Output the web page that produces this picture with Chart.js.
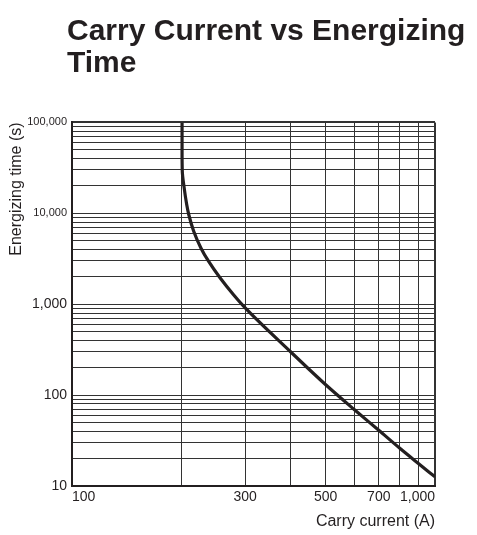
<!DOCTYPE html>
<html>
<head>
<meta charset="utf-8">
<script src="https://cdn.jsdelivr.net/npm/chart.js@4/dist/chart.umd.min.js"></script>
<style>
  html, body { margin: 0; padding: 0; background: #ffffff; }
  #wrap { width: 477px; height: 535px; position: relative; }
</style>
</head>
<body>
<div id="wrap"><canvas id="chart"></canvas></div>
<script>
// Carry current (A) against energizing time (s)
const carryCurrent = [201, 201, 201.3, 203.4, 207, 209.7, 216.4, 226.5, 237.7, 256, 278.6, 300, 400, 500, 600, 700, 800, 900, 1000];
const energizingTime = [100000, 50000, 29000, 19900, 12500, 9700, 6350, 4160, 2970, 1940, 1270, 910, 300, 130, 69, 41, 26, 17.7, 12.6];

// Grid line positions and the values that carry a label
const currentGrid = [100, 200, 300, 400, 500, 600, 700, 800, 900, 1000];
const currentLabels = [100, 300, 500, 700, 1000];
const timeGrid = [10, 20, 30, 40, 50, 60, 70, 80, 90,
                  100, 200, 300, 400, 500, 600, 700, 800, 900,
                  1000, 2000, 3000, 4000, 5000, 6000, 7000, 8000, 9000,
                  10000, 20000, 30000, 40000, 50000, 60000, 70000, 80000, 90000,
                  100000];
const timeLabels = [10, 100, 1000, 10000, 100000];

const ink = '#231f20';
const fontFamily = '"Liberation Sans", Arial, Helvetica, sans-serif';

const points = carryCurrent.map((c, i) => ({ x: c, y: energizingTime[i] }));

// Shift the chart title so it starts a little left of the plot area
const titleShift = {
  id: 'titleShift',
  afterLayout(chart) {
    const t = chart.titleBlock;
    if (t) { t.left = 67; t.right = 477; }
  }
};

new Chart(document.getElementById('chart'), {
  type: 'line',
  data: {
    datasets: [{
      data: points,
      borderColor: ink,
      borderWidth: 3.2,
      pointRadius: 0,
      cubicInterpolationMode: 'monotone',
      fill: false
    }]
  },
  options: {
    indexAxis: 'y',
    responsive: true,
    maintainAspectRatio: false,
    animation: false,
    layout: { padding: { left: 0, right: 42, top: 0, bottom: 0 } },
    plugins: {
      legend: { display: false },
      tooltip: { enabled: false },
      title: {
        display: true,
        text: ['Carry Current vs Energizing', 'Time'],
        align: 'start',
        color: ink,
        font: { family: fontFamily, size: 30, weight: 'bold', lineHeight: 1.09 },
        padding: { top: 15, bottom: 42 }
      }
    },
    scales: {
      x: {
        type: 'logarithmic',
        position: 'bottom',
        min: 100,
        max: 1000,
        afterFit(scale) { scale.height = 49; },
        afterBuildTicks(scale) { scale.ticks = currentGrid.map(v => ({ value: v })); },
        border: { display: true, color: ink, width: 2 },
        grid: {
          color: '#333333',
          lineWidth: ctx => (ctx.tick && ctx.tick.value === 1000 ? 2 : 1),
          drawTicks: false
        },
        ticks: {
          autoSkip: false,
          maxRotation: 0,
          align: 'inner',
          padding: 3,
          color: ink,
          font: { family: fontFamily, size: 14 },
          callback: v => (currentLabels.includes(v) ? v.toLocaleString('en-US') : '')
        },
        title: {
          display: true,
          text: 'Carry current (A)',
          align: 'end',
          color: ink,
          font: { family: fontFamily, size: 16 },
          padding: { top: 0, bottom: 4 }
        }
      },
      y: {
        type: 'logarithmic',
        position: 'left',
        min: 10,
        max: 100000,
        afterFit(scale) { scale.width = 72; },
        afterBuildTicks(scale) { scale.ticks = timeGrid.map(v => ({ value: v })); },
        border: { display: true, color: ink, width: 2 },
        grid: {
          color: '#333333',
          lineWidth: ctx => (ctx.tick && ctx.tick.value === 100000 ? 2 : 1),
          drawTicks: false
        },
        ticks: {
          autoSkip: false,
          padding: 5,
          color: ink,
          font: ctx => ({ family: fontFamily, size: (ctx.tick && ctx.tick.value >= 10000) ? 11 : 14 }),
          callback: v => (timeLabels.includes(v) ? v.toLocaleString('en-US') : '')
        },
        title: {
          display: true,
          text: 'Energizing time (s)',
          align: 'end',
          color: ink,
          font: { family: fontFamily, size: 16 },
          padding: { top: 7, bottom: 0 }
        }
      }
    }
  },
  plugins: [titleShift]
});
</script>
</body>
</html>
